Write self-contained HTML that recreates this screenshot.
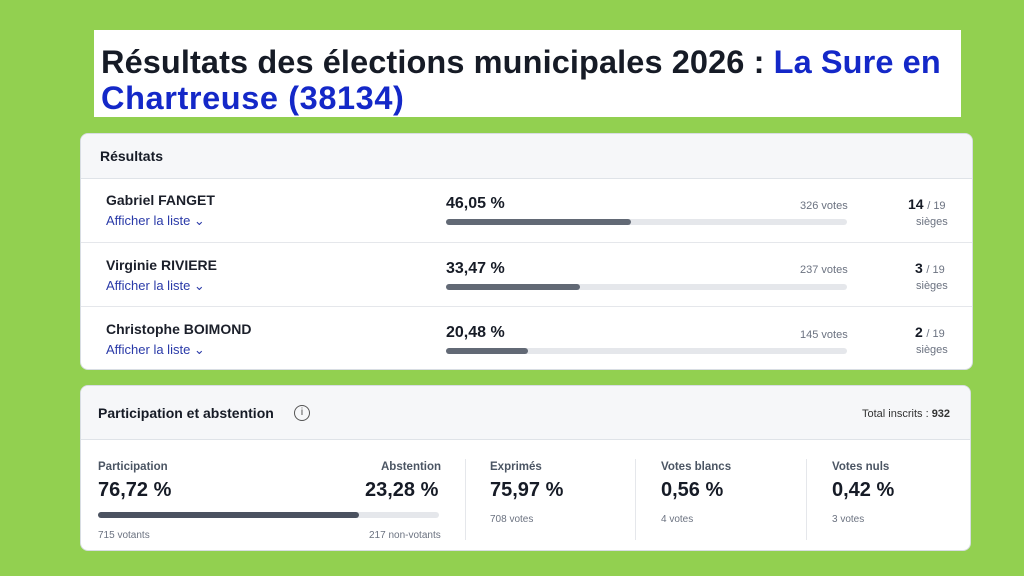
<!DOCTYPE html>
<html><head><meta charset="utf-8"><style>
*{margin:0;padding:0;box-sizing:border-box}
body{width:1024px;height:576px;background:#92d050;position:relative;overflow:hidden;font-family:"Liberation Sans",sans-serif;color:#161b26}
.a{position:absolute;white-space:nowrap}
.title{left:94px;top:30px;width:867px;height:87px;background:#fff}
.t{font-weight:bold;font-size:32.5px;letter-spacing:0.1px;color:#161b26;line-height:36px}
.blue{color:#1428c8}
.card{background:#fff;border:1px solid #d8dde3;border-radius:8px;overflow:hidden}
.hdr{background:#f6f7f9;border-bottom:1px solid #dfe3e8}
.name{font-weight:bold;font-size:14px;color:#1b1f2a}
.link{font-size:13px;color:#2a3aa8}
.pct{font-weight:bold;font-size:16px}
.bar{height:6px;border-radius:3px;background:#e5e7eb}
.fill{height:6px;border-radius:3px;background:#626975}
.g{font-size:11px;color:#6b7280}
.sm{font-size:10px;color:#6b7280}
.lab{font-weight:bold;font-size:11.5px;color:#4b5563}
.big{font-weight:bold;font-size:20px;color:#161b26}
.sep{width:1px;background:#e5e7eb}
</style></head><body>
<div class="a title"></div>
<div class="a t" style="left:101px;top:44px">Résultats des élections municipales 2026 : <span class="blue">La Sure en</span></div>
<div class="a t blue" style="left:101px;top:80px;letter-spacing:0.6px">Chartreuse (38134)</div>

<div class="a card" style="left:80px;top:133px;width:893px;height:237px">
 <div class="hdr" style="height:45px"></div>
 <div style="position:absolute;left:0;right:0;top:108px;height:1px;background:#e5e7eb"></div>
 <div style="position:absolute;left:0;right:0;top:172px;height:1px;background:#e5e7eb"></div>
</div>
<div class="a" style="left:100px;top:148px;font-weight:bold;font-size:14px">Résultats</div>

<div class="a name" style="left:106px;top:192px">Gabriel FANGET</div>
<div class="a link" style="left:106px;top:213px">Afficher la liste ⌄</div>
<div class="a pct" style="left:446px;top:195px">46,05 %</div>
<div class="a g" style="left:800px;top:200px">326 votes</div>
<div class="a bar" style="left:446px;top:219px;width:401px"><div class="fill" style="width:185px"></div></div>
<div class="a" style="left:908px;top:196px;font-size:13px"><b style="font-size:14px">14</b> <span class="g">/ 19</span></div>
<div class="a g" style="left:916px;top:216px">sièges</div>

<div class="a name" style="left:106px;top:257px">Virginie RIVIERE</div>
<div class="a link" style="left:106px;top:278px">Afficher la liste ⌄</div>
<div class="a pct" style="left:446px;top:260px">33,47 %</div>
<div class="a g" style="left:800px;top:264px">237 votes</div>
<div class="a bar" style="left:446px;top:284px;width:401px"><div class="fill" style="width:134px"></div></div>
<div class="a" style="left:915px;top:260px;font-size:13px"><b style="font-size:14px">3</b> <span class="g">/ 19</span></div>
<div class="a g" style="left:916px;top:280px">sièges</div>

<div class="a name" style="left:106px;top:321px">Christophe BOIMOND</div>
<div class="a link" style="left:106px;top:342px">Afficher la liste ⌄</div>
<div class="a pct" style="left:446px;top:324px">20,48 %</div>
<div class="a g" style="left:800px;top:329px">145 votes</div>
<div class="a bar" style="left:446px;top:348px;width:401px"><div class="fill" style="width:82px"></div></div>
<div class="a" style="left:915px;top:324px;font-size:13px"><b style="font-size:14px">2</b> <span class="g">/ 19</span></div>
<div class="a g" style="left:916px;top:344px">sièges</div>

<div class="a card" style="left:80px;top:385px;width:891px;height:166px">
 <div class="hdr" style="height:54px"></div>
</div>
<div class="a" style="left:98px;top:405px;font-weight:bold;font-size:14px">Participation et abstention</div>
<div class="a" style="left:294px;top:405px;width:16px;height:16px;border:1.3px solid #555;border-radius:50%;font-size:10px;text-align:center;line-height:14px;color:#444">i</div>
<div class="a" style="left:862px;top:408px;font-size:11px;color:#333">Total inscrits : <b>932</b></div>

<div class="a lab" style="left:98px;top:461px">Participation</div>
<div class="a lab" style="left:381px;top:461px">Abstention</div>
<div class="a big" style="left:98px;top:479px">76,72 %</div>
<div class="a big" style="left:365px;top:479px">23,28 %</div>
<div class="a bar" style="left:98px;top:512px;width:341px"><div class="fill" style="width:261px;background:#4b5260"></div></div>
<div class="a sm" style="left:98px;top:530px">715 votants</div>
<div class="a sm" style="left:369px;top:530px">217 non-votants</div>
<div class="a sep" style="left:465px;top:459px;height:81px"></div>

<div class="a lab" style="left:490px;top:461px">Exprimés</div>
<div class="a big" style="left:490px;top:479px">75,97 %</div>
<div class="a sm" style="left:490px;top:514px">708 votes</div>
<div class="a sep" style="left:635px;top:459px;height:81px"></div>

<div class="a lab" style="left:661px;top:461px">Votes blancs</div>
<div class="a big" style="left:661px;top:479px">0,56 %</div>
<div class="a sm" style="left:661px;top:514px">4 votes</div>
<div class="a sep" style="left:806px;top:459px;height:81px"></div>

<div class="a lab" style="left:832px;top:461px">Votes nuls</div>
<div class="a big" style="left:832px;top:479px">0,42 %</div>
<div class="a sm" style="left:832px;top:514px">3 votes</div>
</body></html>
